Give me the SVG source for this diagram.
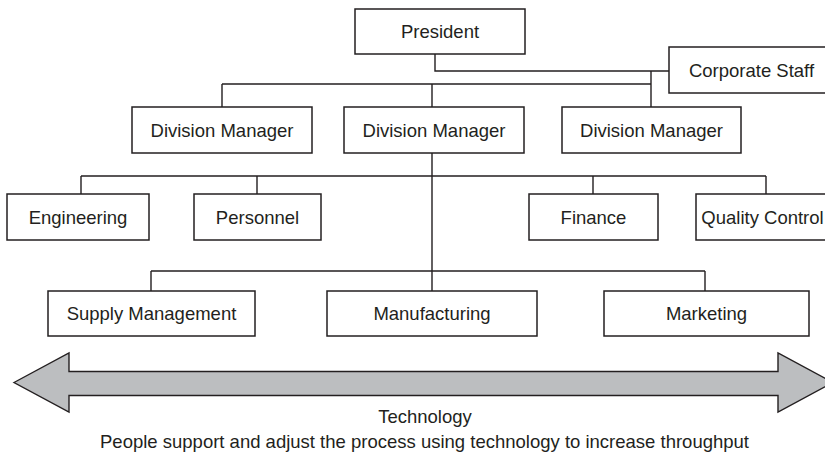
<svg xmlns="http://www.w3.org/2000/svg" width="825" height="452" viewBox="0 0 825 452">
<style>
.box{fill:#fff;stroke:#231f20;stroke-width:1.5}
.lbl{font-family:"Liberation Sans",Arial,sans-serif;font-size:18.5px;fill:#231f20;text-anchor:middle}
.ln{fill:none;stroke:#231f20;stroke-width:1.4}
</style>
<rect width="825" height="452" fill="#fff"/>
<g id="connectors">
<path class="ln" d="M435,54V71H669M651,71V107M222,84H651M222,84V107M432,84V107M432,153V291M81,176H766M81,176V194M257,176V194M593,176V194M766,176V194M151,271H705M151,271V291M705,271V291"/>
</g>
<g id="president"><rect class="box" x="355" y="9" width="170" height="45"/><text class="lbl" x="440" y="38">President</text></g>
<g id="corporate-staff"><rect class="box" x="669" y="47" width="165" height="46"/><text class="lbl" x="751.5" y="76.5">Corporate Staff</text></g>
<g id="division-manager-1"><rect class="box" x="132" y="107" width="180" height="46"/><text class="lbl" x="222" y="136.5">Division Manager</text></g>
<g id="division-manager-2"><rect class="box" x="344" y="107" width="180" height="46"/><text class="lbl" x="434" y="136.5">Division Manager</text></g>
<g id="division-manager-3"><rect class="box" x="562" y="107" width="179" height="46"/><text class="lbl" x="651.5" y="136.5">Division Manager</text></g>
<g id="engineering"><rect class="box" x="7" y="194" width="142" height="46"/><text class="lbl" x="78" y="223.5">Engineering</text></g>
<g id="personnel"><rect class="box" x="194" y="194" width="127" height="46"/><text class="lbl" x="257.5" y="223.5">Personnel</text></g>
<g id="finance"><rect class="box" x="529" y="194" width="129" height="46"/><text class="lbl" x="593.5" y="223.5">Finance</text></g>
<g id="quality-control"><rect class="box" x="696" y="194" width="140" height="46"/><text class="lbl" x="762.5" y="223.5">Quality Control</text></g>
<g id="supply-management"><rect class="box" x="48" y="291" width="207" height="45"/><text class="lbl" x="151.5" y="320">Supply Management</text></g>
<g id="manufacturing"><rect class="box" x="327" y="291" width="210" height="45"/><text class="lbl" x="432" y="320">Manufacturing</text></g>
<g id="marketing"><rect class="box" x="604" y="291" width="205" height="45"/><text class="lbl" x="706.5" y="320">Marketing</text></g>
<g id="technology">
<path d="M14,382.5L69,353V371.5H778V353L833,382.5L778,412V395.5H69V412Z" fill="#bcbec0" stroke="#231f20" stroke-width="1.4" stroke-linejoin="miter"/>
<text class="lbl" x="425" y="423">Technology</text>
<text class="lbl" x="424.5" y="448">People support and adjust the process using technology to increase throughput</text>
</g>
</svg>
